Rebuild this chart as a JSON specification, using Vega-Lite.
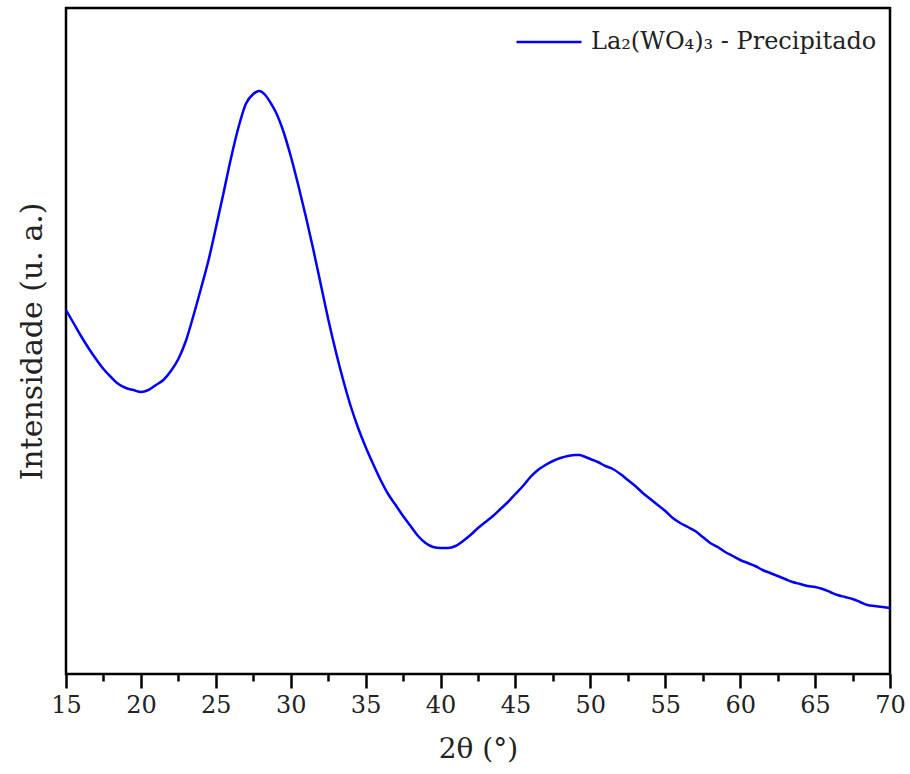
{
  "$schema": "https://vega.github.io/schema/vega-lite/v6.json",
  "width": 824,
  "height": 666,
  "autosize": "none",
  "padding": {"left": 66, "top": 8, "right": 20, "bottom": 100},
  "background": "white",
  "config": {
    "view": {"stroke": "black", "strokeWidth": 2.5},
    "font": "DejaVu Serif"
  },
  "data": {
    "values": [
      {"t": 15.0, "i": 364}, {"t": 15.5, "i": 351}, {"t": 16.0, "i": 338}, {"t": 16.5, "i": 326},
      {"t": 17.0, "i": 315}, {"t": 17.5, "i": 305}, {"t": 18.0, "i": 297}, {"t": 18.5, "i": 290},
      {"t": 19.0, "i": 286}, {"t": 19.5, "i": 284}, {"t": 20.0, "i": 282}, {"t": 20.5, "i": 284},
      {"t": 21.0, "i": 289}, {"t": 21.5, "i": 294}, {"t": 22.0, "i": 303}, {"t": 22.5, "i": 315},
      {"t": 23.0, "i": 333}, {"t": 23.5, "i": 358}, {"t": 24.0, "i": 385}, {"t": 24.5, "i": 413},
      {"t": 25.0, "i": 446}, {"t": 25.5, "i": 480}, {"t": 26.0, "i": 515}, {"t": 26.5, "i": 546},
      {"t": 27.0, "i": 570}, {"t": 27.5, "i": 580}, {"t": 27.9, "i": 583}, {"t": 28.3, "i": 579},
      {"t": 28.7, "i": 570}, {"t": 29.0, "i": 562}, {"t": 29.5, "i": 543}, {"t": 30.0, "i": 518},
      {"t": 30.5, "i": 489}, {"t": 31.0, "i": 458}, {"t": 31.5, "i": 425}, {"t": 32.0, "i": 390},
      {"t": 32.5, "i": 355}, {"t": 33.0, "i": 323}, {"t": 33.5, "i": 294}, {"t": 34.0, "i": 268},
      {"t": 34.5, "i": 246}, {"t": 35.0, "i": 227}, {"t": 35.5, "i": 210}, {"t": 36.0, "i": 194},
      {"t": 36.5, "i": 180}, {"t": 37.0, "i": 169}, {"t": 37.5, "i": 158}, {"t": 38.0, "i": 148},
      {"t": 38.5, "i": 138}, {"t": 39.0, "i": 131}, {"t": 39.5, "i": 127}, {"t": 40.0, "i": 126},
      {"t": 40.5, "i": 126}, {"t": 41.0, "i": 128}, {"t": 41.5, "i": 133}, {"t": 42.0, "i": 139},
      {"t": 42.5, "i": 146}, {"t": 43.0, "i": 152}, {"t": 43.5, "i": 158}, {"t": 44.0, "i": 165},
      {"t": 44.5, "i": 172}, {"t": 45.0, "i": 180}, {"t": 45.5, "i": 188}, {"t": 46.0, "i": 197},
      {"t": 46.5, "i": 204}, {"t": 47.0, "i": 209}, {"t": 47.5, "i": 213}, {"t": 48.0, "i": 216},
      {"t": 48.5, "i": 218}, {"t": 49.0, "i": 219}, {"t": 49.3, "i": 219}, {"t": 49.5, "i": 218},
      {"t": 50.0, "i": 215}, {"t": 50.5, "i": 212}, {"t": 51.0, "i": 208}, {"t": 51.5, "i": 205},
      {"t": 52.0, "i": 200}, {"t": 52.5, "i": 194}, {"t": 53.0, "i": 188}, {"t": 53.5, "i": 181},
      {"t": 54.0, "i": 175}, {"t": 54.5, "i": 169}, {"t": 55.0, "i": 163}, {"t": 55.5, "i": 156},
      {"t": 56.0, "i": 151}, {"t": 56.5, "i": 147}, {"t": 57.0, "i": 143}, {"t": 57.5, "i": 137},
      {"t": 58.0, "i": 131}, {"t": 58.5, "i": 127}, {"t": 59.0, "i": 122}, {"t": 59.5, "i": 118},
      {"t": 60.0, "i": 114}, {"t": 60.5, "i": 111}, {"t": 61.0, "i": 108}, {"t": 61.5, "i": 104},
      {"t": 62.0, "i": 101}, {"t": 62.5, "i": 98}, {"t": 63.0, "i": 95}, {"t": 63.5, "i": 92},
      {"t": 64.0, "i": 90}, {"t": 64.5, "i": 88}, {"t": 65.0, "i": 87}, {"t": 65.5, "i": 85},
      {"t": 66.0, "i": 82}, {"t": 66.5, "i": 79}, {"t": 67.0, "i": 77}, {"t": 67.5, "i": 75},
      {"t": 68.0, "i": 72}, {"t": 68.5, "i": 69}, {"t": 69.0, "i": 68}, {"t": 69.5, "i": 67},
      {"t": 70.0, "i": 66}
    ]
  },
  "mark": {"type": "line", "strokeWidth": 2.5, "interpolate": "monotone"},
  "encoding": {
    "x": {
      "field": "t",
      "type": "quantitative",
      "scale": {"domain": [15, 70], "nice": false, "zero": false},
      "axis": {
        "title": "2θ (°)",
        "titleFont": "DejaVu Serif",
        "titleFontSize": 28,
        "titleFontWeight": "normal",
        "titleColor": "#222",
        "titlePadding": 18,
        "values": [15, 17.5, 20, 22.5, 25, 27.5, 30, 32.5, 35, 37.5, 40, 42.5, 45, 47.5, 50, 52.5, 55, 57.5, 60, 62.5, 65, 67.5, 70],
        "labelExpr": "datum.value % 5 === 0 ? datum.label : ''",
        "labelFont": "DejaVu Serif",
        "labelFontSize": 24,
        "labelColor": "#222",
        "labelPadding": 5,
        "labelFlush": false,
        "labelOverlap": false,
        "tickSize": {"condition": {"test": "datum.value % 5 === 0", "value": 14}, "value": 7},
        "tickWidth": 2.5,
        "tickColor": "black",
        "domain": false,
        "grid": false
      }
    },
    "y": {
      "field": "i",
      "type": "quantitative",
      "scale": {"domain": [0, 666], "nice": false},
      "axis": {
        "title": "Intensidade (u. a.)",
        "titleFont": "DejaVu Serif",
        "titleFontSize": 30,
        "titleFontWeight": "normal",
        "titleColor": "#222",
        "titlePadding": 19,
        "labels": false,
        "ticks": false,
        "domain": false,
        "grid": false
      }
    },
    "color": {
      "datum": "La₂(WO₄)₃ - Precipitado",
      "type": "nominal",
      "scale": {"range": ["#0000ff"]},
      "legend": {
        "title": null,
        "orient": "none",
        "legendX": 449,
        "legendY": 0,
        "padding": 0,
        "symbolType": "stroke",
        "symbolSize": 4225,
        "symbolStrokeWidth": 2.5,
        "labelFont": "DejaVu Serif",
        "labelFontSize": 24,
        "labelColor": "#222",
        "labelOffset": 8,
        "labelLimit": 500
      }
    }
  }
}
